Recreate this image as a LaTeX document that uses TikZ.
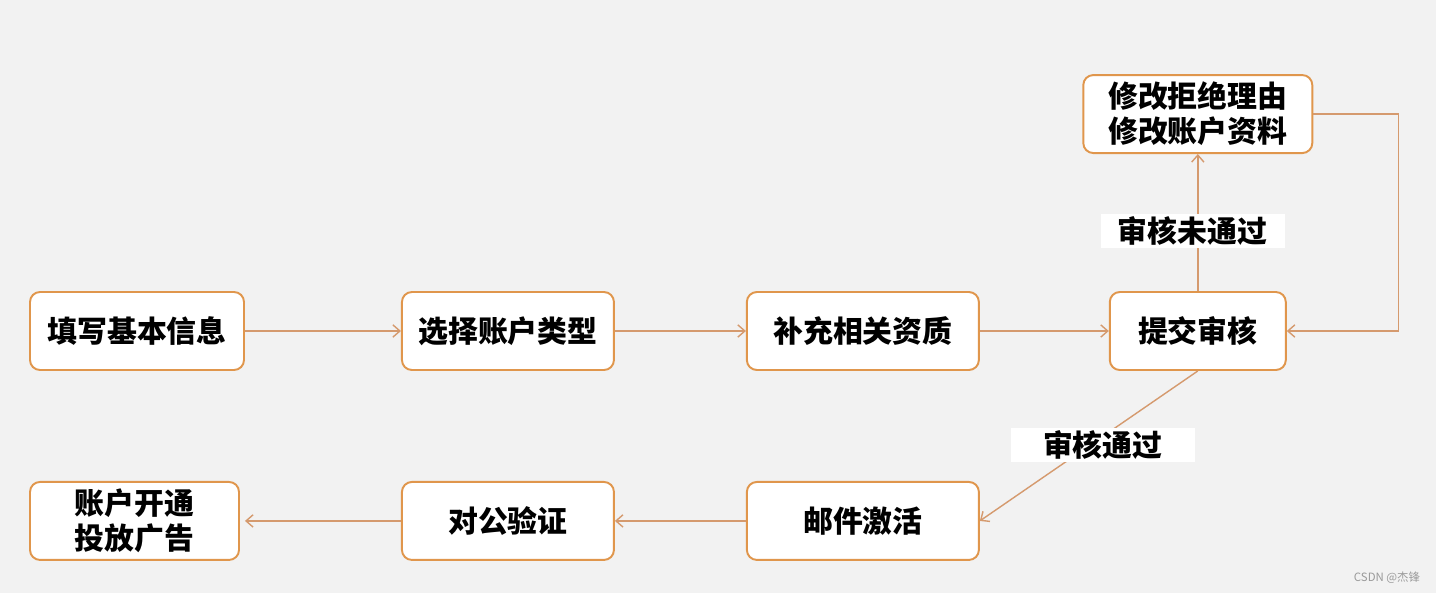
\documentclass[tikz,border=0pt]{standalone}
\usepackage{fontspec}
\usepackage{xcolor}
\usepackage{tikz}
\usetikzlibrary{positioning,arrows.meta}
\newfontfamily\cjk{Noto Sans CJK SC}
\definecolor{flowBg}{HTML}{F2F2F2}
\definecolor{flowOrange}{HTML}{E0964C}
\definecolor{flowLine}{HTML}{D59A6E}
\definecolor{flowMark}{HTML}{9A9A9A}
\tikzset{
  box/.style={draw=flowOrange, line width=1.1pt, rounded corners=0.2cm, fill=white, minimum height=1.56cm, align=center, font=\cjk\bfseries\fontsize{17}{20}\selectfont},
  arrow/.style={-{Straight Barb[length=4pt, width=7pt]}, draw=flowLine, line width=0.8pt},
  edgeLabel/.style={fill=white, inner sep=0pt, minimum width=3.68cm, minimum height=0.67cm, font=\cjk\bfseries\fontsize{17}{20}\selectfont}
}

\begin{document}
\begin{tikzpicture}
  \fill[flowBg] (0,0) rectangle (28.72,-11.86);
  \useasboundingbox (0,0) rectangle (28.72,-11.86);

  \node[box, minimum width=4.28cm] (info) at (2.74,-6.62) {填写基本信息};
  \node[box, right=3.12cm of info, minimum width=4.24cm] (type) {选择账户类型};
  \node[box, right=2.62cm of type, minimum width=4.64cm] (qual) {补充相关资质};
  \node[box, right=2.58cm of qual, minimum width=3.52cm] (submit) {提交审核};
  \node[box, above=2.74cm of submit, minimum width=4.58cm] (modify) {修改拒绝理由\\修改账户资料};
  \node[box, below=2.20cm of qual, minimum width=4.64cm] (mail) {邮件激活};
  \node[box, below=2.20cm of type, minimum width=4.24cm] (verify) {对公验证};
  \node[box, below=2.20cm of info.south west, anchor=north west, minimum width=4.18cm] (open) {账户开通\\投放广告};

  \draw[arrow] (info) -- (type);
  \draw[arrow] (type) -- (qual);
  \draw[arrow] (qual) -- (submit);
  \draw[arrow] (submit) -- node[pos=0.44, edgeLabel, xshift=-3pt]{审核未通过} (modify);
  \draw[arrow] (modify.east) -- ++(1.7,0) |- (submit.east);
  \draw[arrow] (submit.south) -- node[pos=0.42, edgeLabel, xshift=-2pt, yshift=-0.22cm]{审核通过} (mail.east);
  \draw[arrow] (mail) -- (verify);
  \draw[arrow, shorten >=0.1cm] (verify) -- (open);

  \node[text=flowMark, font=\cjk\fontsize{6.5}{8}\selectfont] (mark) at (27.74,-11.56) {CSDN @杰锋};
\end{tikzpicture}
\end{document}
